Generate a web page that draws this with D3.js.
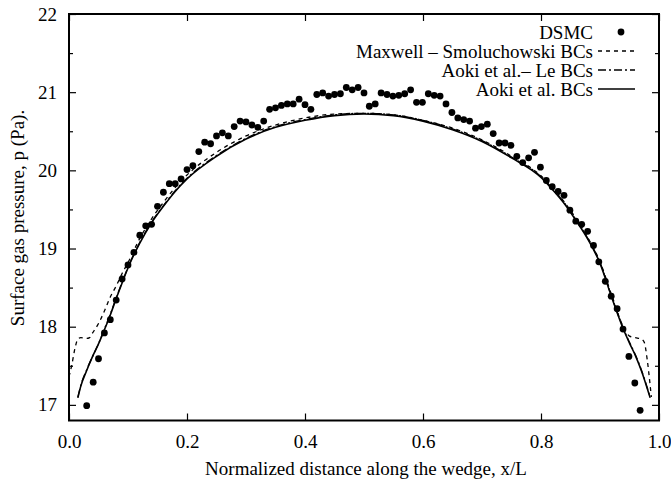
<!DOCTYPE html>
<html>
<head>
<meta charset="utf-8">
<script src="https://cdn.jsdelivr.net/npm/d3@7"></script>
<style>
  body { margin: 0; background: #fff; }
  svg text { font-family: "Liberation Serif", "DejaVu Serif", serif; fill: #000; }
</style>
</head>
<body>
<div id="chart"></div>
<script>
// DSMC points
const dsmcX = [0.030, 0.041, 0.050, 0.060, 0.070, 0.080, 0.090, 0.100, 0.110, 0.120,
  0.130, 0.140, 0.150, 0.160, 0.170, 0.180, 0.190, 0.200, 0.210, 0.220,
  0.230, 0.240, 0.250, 0.260, 0.270, 0.280, 0.290, 0.300, 0.310, 0.320,
  0.330, 0.340, 0.350, 0.360, 0.370, 0.380, 0.390, 0.400, 0.410, 0.420,
  0.430, 0.440, 0.450, 0.460, 0.470, 0.480, 0.490, 0.500, 0.509, 0.519,
  0.529, 0.539, 0.549, 0.559, 0.569, 0.579, 0.589, 0.599, 0.609, 0.619,
  0.629, 0.639, 0.649, 0.659, 0.669, 0.679, 0.689, 0.699, 0.709, 0.719,
  0.729, 0.739, 0.749, 0.759, 0.769, 0.779, 0.789, 0.799, 0.809, 0.819,
  0.829, 0.839, 0.849, 0.859, 0.869, 0.879, 0.889, 0.898, 0.909, 0.919,
  0.929, 0.939, 0.949, 0.959, 0.968];
const dsmcP = [16.99, 17.29, 17.59, 17.92, 18.09, 18.34, 18.61, 18.79, 18.95, 19.17,
  19.29, 19.31, 19.54, 19.72, 19.83, 19.83, 19.89, 20.01, 20.06, 20.24,
  20.36, 20.34, 20.44, 20.48, 20.44, 20.56, 20.63, 20.62, 20.58, 20.55,
  20.63, 20.78, 20.80, 20.83, 20.85, 20.85, 20.91, 20.84, 20.78, 20.97,
  20.99, 20.95, 20.97, 20.98, 21.06, 21.03, 21.06, 20.99, 20.82, 20.85,
  20.99, 20.97, 20.95, 20.96, 20.98, 21.03, 20.87, 20.87, 20.98, 20.96,
  20.95, 20.85, 20.74, 20.67, 20.65, 20.63, 20.54, 20.56, 20.59, 20.47,
  20.35, 20.35, 20.32, 20.18, 20.10, 20.16, 20.23, 20.04, 19.87, 19.79,
  19.73, 19.68, 19.49, 19.35, 19.31, 19.22, 19.04, 18.83, 18.58, 18.39,
  18.23, 17.97, 17.62, 17.28, 16.93];

// Maxwell - Smoluchowski BCs (dashed)
const msX = [0.000, 0.005, 0.010, 0.015, 0.020, 0.030, 0.035, 0.040, 0.050, 0.060,
  0.070, 0.080, 0.090, 0.100, 0.120, 0.140, 0.160, 0.180, 0.200, 0.250,
  0.300, 0.350, 0.400, 0.450, 0.500, 0.550, 0.600, 0.650, 0.700, 0.750,
  0.800, 0.840, 0.880, 0.900, 0.920, 0.940, 0.950, 0.960, 0.970, 0.975,
  0.980, 0.985, 0.987];
const msP = [17.36, 17.52, 17.72, 17.84, 17.86, 17.85, 17.86, 17.92, 18.04, 18.20,
  18.38, 18.52, 18.68, 18.82, 19.13, 19.38, 19.59, 19.78, 19.94, 20.23,
  20.44, 20.58, 20.67, 20.72, 20.73, 20.71, 20.64, 20.54, 20.39, 20.18,
  19.93, 19.59, 19.13, 18.83, 18.40, 17.99, 17.88, 17.86, 17.84, 17.80,
  17.58, 17.25, 17.10];

// Aoki et al.- Le BCs (dash-dot)
const leX = [0.015, 0.020, 0.030, 0.040, 0.050, 0.060, 0.070, 0.080, 0.090, 0.100,
  0.110, 0.120, 0.140, 0.160, 0.180, 0.200, 0.250, 0.300, 0.350, 0.400,
  0.450, 0.500, 0.550, 0.600, 0.650, 0.700, 0.750, 0.800, 0.820, 0.840,
  0.860, 0.880, 0.900, 0.920, 0.930, 0.940, 0.950, 0.960, 0.970, 0.985];
const leP = [17.10, 17.25, 17.45, 17.62, 17.78, 17.97, 18.16, 18.37, 18.57, 18.76,
  18.93, 19.08, 19.34, 19.55, 19.74, 19.90, 20.19, 20.41, 20.56, 20.65,
  20.71, 20.73, 20.71, 20.64, 20.53, 20.38, 20.17, 19.92, 19.76, 19.58,
  19.36, 19.12, 18.82, 18.38, 18.17, 17.97, 17.80, 17.64, 17.45, 17.10];

// Aoki et al. BCs (solid)
const aokiX = [0.015, 0.020, 0.030, 0.040, 0.050, 0.060, 0.070, 0.080, 0.090, 0.100,
  0.110, 0.120, 0.140, 0.160, 0.180, 0.200, 0.250, 0.300, 0.350, 0.400,
  0.450, 0.500, 0.550, 0.600, 0.650, 0.700, 0.750, 0.800, 0.820, 0.840,
  0.860, 0.880, 0.900, 0.920, 0.930, 0.940, 0.950, 0.960, 0.970, 0.985];
const aokiP = [17.09, 17.24, 17.44, 17.62, 17.78, 17.96, 18.15, 18.36, 18.56, 18.75,
  18.92, 19.07, 19.33, 19.54, 19.73, 19.89, 20.18, 20.40, 20.55, 20.64,
  20.70, 20.72, 20.70, 20.63, 20.52, 20.37, 20.16, 19.91, 19.75, 19.57,
  19.35, 19.11, 18.81, 18.37, 18.16, 17.96, 17.79, 17.63, 17.44, 17.09];

const xTicks = [0.0, 0.2, 0.4, 0.6, 0.8, 1.0];
const yTicks = [17, 18, 19, 20, 21, 22];
const yMinor = [17.5, 18.5, 19.5, 20.5, 21.5];

const legendLabels = ['DSMC', 'Maxwell \u2013 Smoluchowski BCs', 'Aoki et al.\u2013 Le BCs', 'Aoki et al. BCs'];

const width = 671, height = 485;
const plot = { left: 69, right: 659, top: 14, bottom: 420.5 };
const fontSize = '19px';

const svg = d3.select('#chart').append('svg')
  .attr('width', width)
  .attr('height', height);

const x = d3.scaleLinear().domain([0, 1]).range([plot.left, plot.right]);
const y = d3.scaleLinear().domain([16.8, 22]).range([plot.bottom, plot.top]);

// axes with inward ticks
svg.append('g')
  .attr('transform', `translate(0,${plot.bottom})`)
  .call(d3.axisBottom(x).tickValues(xTicks).tickFormat(d3.format('.1f'))
    .tickSizeInner(-7).tickSizeOuter(0).tickPadding(14))
  .call(g => g.select('.domain').remove())
  .call(g => g.selectAll('text').style('font-size', fontSize));

svg.append('g')
  .attr('transform', `translate(0,${plot.top})`)
  .call(d3.axisTop(x).tickValues(xTicks).tickFormat('').tickSizeInner(-7).tickSizeOuter(0))
  .call(g => g.select('.domain').remove());

svg.append('g')
  .attr('transform', `translate(${plot.left},0)`)
  .call(d3.axisLeft(y).tickValues(yTicks).tickFormat(d3.format('d'))
    .tickSizeInner(-7).tickSizeOuter(0).tickPadding(12))
  .call(g => g.select('.domain').remove())
  .call(g => g.selectAll('text').style('font-size', fontSize));

svg.append('g')
  .attr('transform', `translate(${plot.left},0)`)
  .call(d3.axisLeft(y).tickValues(yMinor).tickFormat('').tickSizeInner(-4).tickSizeOuter(0))
  .call(g => g.select('.domain').remove());

svg.append('g')
  .attr('transform', `translate(${plot.right},0)`)
  .call(d3.axisRight(y).tickValues(yTicks).tickFormat('').tickSizeInner(-7).tickSizeOuter(0))
  .call(g => g.select('.domain').remove());

svg.append('g')
  .attr('transform', `translate(${plot.right},0)`)
  .call(d3.axisRight(y).tickValues(yMinor).tickFormat('').tickSizeInner(-4).tickSizeOuter(0))
  .call(g => g.select('.domain').remove());

svg.selectAll('.tick line').attr('stroke', '#000').attr('stroke-width', 1.2);

// frame
svg.append('rect')
  .attr('x', plot.left).attr('y', plot.top)
  .attr('width', plot.right - plot.left).attr('height', plot.bottom - plot.top)
  .attr('fill', 'none').attr('stroke', '#000').attr('stroke-width', 2);

// axis titles
svg.append('text')
  .attr('x', 366).attr('y', 475)
  .attr('text-anchor', 'middle')
  .style('font-size', fontSize)
  .text('Normalized distance along the wedge, x/L');

svg.append('text')
  .attr('transform', 'translate(24,218) rotate(-90)')
  .attr('text-anchor', 'middle')
  .style('font-size', fontSize)
  .text('Surface gas pressure, p (Pa).');

// curves
const line = d3.line().x(d => x(d[0])).y(d => y(d[1])).curve(d3.curveMonotoneX);

svg.append('path')
  .datum(d3.zip(msX, msP))
  .attr('d', line)
  .attr('fill', 'none').attr('stroke', '#000').attr('stroke-width', 1.3)
  .attr('stroke-dasharray', '4,4');

svg.append('path')
  .datum(d3.zip(leX, leP))
  .attr('d', line)
  .attr('fill', 'none').attr('stroke', '#000').attr('stroke-width', 1.3)
  .attr('stroke-dasharray', '8,3,2,3');

svg.append('path')
  .datum(d3.zip(aokiX, aokiP))
  .attr('d', line)
  .attr('fill', 'none').attr('stroke', '#000').attr('stroke-width', 1.6);

svg.selectAll('.dsmc')
  .data(d3.zip(dsmcX, dsmcP))
  .enter()
  .append('circle')
  .attr('class', 'dsmc')
  .attr('cx', d => x(d[0]))
  .attr('cy', d => y(d[1]))
  .attr('r', 3.4)
  .attr('fill', '#000');

// legend
const legend = svg.append('g');
const legY = i => 32 + i * 19;
legendLabels.forEach((label, i) => {
  legend.append('text')
    .attr('x', 593).attr('y', legY(i))
    .attr('dy', '0.35em')
    .attr('text-anchor', 'end')
    .style('font-size', fontSize)
    .text(label);
});
legend.append('circle')
  .attr('cx', 621).attr('cy', legY(0)).attr('r', 3.4).attr('fill', '#000');
const legDash = [null, '4,4', '8,3,2,3', null];
[1, 2, 3].forEach(i => {
  legend.append('line')
    .attr('x1', 598).attr('x2', 635)
    .attr('y1', legY(i)).attr('y2', legY(i))
    .attr('stroke', '#000').attr('stroke-width', 1.3)
    .attr('stroke-dasharray', legDash[i]);
});
</script>
</body>
</html>
